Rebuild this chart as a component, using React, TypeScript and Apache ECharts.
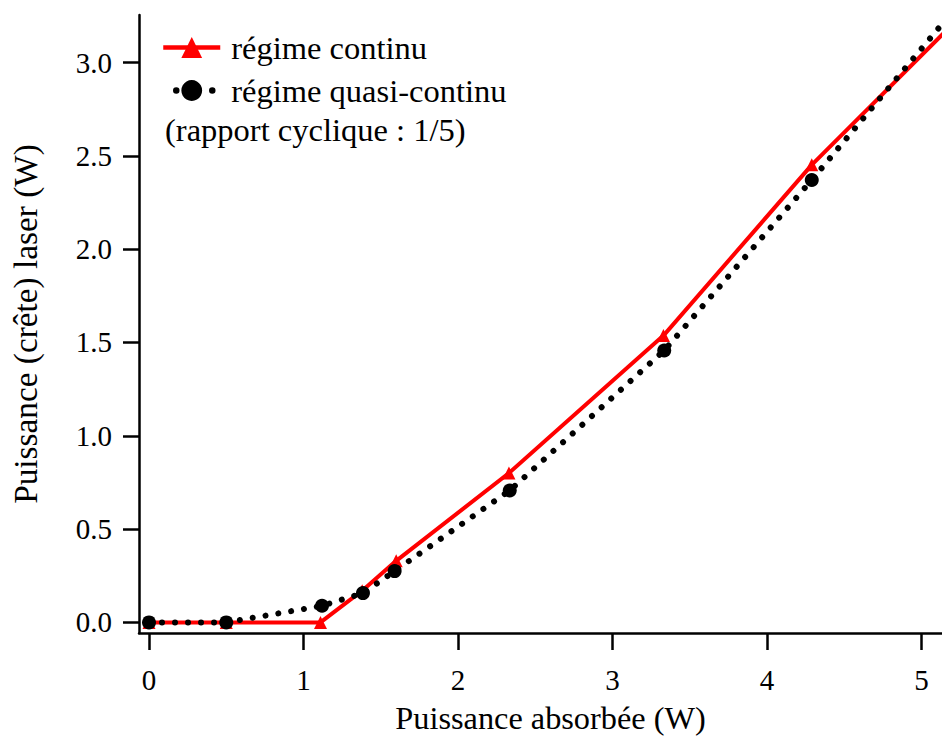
import { useEffect, useRef } from 'react';
import * as echarts from 'echarts';

// Régime continu (triangles rouges)
const xContinu = [0, 0.5, 1.11, 1.38, 1.6, 2.33, 3.33, 4.29, 5.45];
const yContinu = [0, 0, 0, 0.17, 0.33, 0.8, 1.537, 2.452, 3.41];

// Régime quasi-continu (cercles noirs)
const xQuasi = [0, 0.5, 1.12, 1.385, 1.59, 2.335, 3.335, 4.29, 5.45];
const yQuasi = [0, 0, 0.089, 0.157, 0.275, 0.707, 1.457, 2.371, 3.52];

const xTicks = [0, 1, 2, 3, 4, 5];
const yTicks = [0, 0.5, 1, 1.5, 2, 2.5, 3];

const seriesNames = ['régime continu', 'régime quasi-continu'];
const note = '(rapport cyclique : 1/5)';
const xTitle = 'Puissance absorbée (W)';
const yTitle = 'Puissance (crête) laser (W)';

const FONT = 'Liberation Serif, Times New Roman, serif';

export default function App() {
  const ref = useRef<HTMLDivElement>(null);
  useEffect(() => {
    const chart = echarts.init(ref.current!, null, { renderer: 'svg' });
    const zip = (xs: number[], ys: number[]) => xs.map((x, i) => [x, ys[i]]);
    chart.setOption({
      animation: false,
      backgroundColor: '#fff',
      grid: {
        left: 139,
        right: 0,
        top: 15,
        bottom: 104,
        containLabel: false,
        outerBoundsMode: 'none',
      },
      legend: {
        orient: 'vertical',
        left: 155,
        top: 26,
        itemWidth: 57,
        itemHeight: 26,
        itemGap: 10,
        textStyle: { fontFamily: FONT, fontSize: 32.5, color: '#000', padding: [0, 0, 0, 6] },
        data: [
          {
            name: seriesNames[0],
            lineStyle: { width: 4.5, color: '#ff0000' },
          },
          {
            name: seriesNames[1],
            lineStyle: { type: [0.01, 36], dashOffset: 23, width: 6.5, cap: 'round', color: '#000' },
          },
        ],
      },
      graphic: [
        {
          type: 'text',
          left: 165,
          top: 113,
          style: { text: note, fontFamily: FONT, fontSize: 32.5, fill: '#000' },
        },
      ],
      xAxis: {
        type: 'value',
        min: -0.0647,
        max: 5.133,
        splitLine: { show: false },
        axisLine: { onZero: false, lineStyle: { color: '#000', width: 2.5 } },
        axisTick: { customValues: xTicks, length: 17, lineStyle: { color: '#000', width: 2.5 } },
        axisLabel: {
          customValues: xTicks,
          margin: 32,
          fontFamily: FONT,
          fontSize: 29,
          color: '#000',
          formatter: (v: number) => String(v),
        },
        name: xTitle,
        nameLocation: 'middle',
        nameGap: 69,
        nameTextStyle: { fontFamily: FONT, fontSize: 32.3, color: '#000', padding: [0, 0, 0, 20] },
      },
      yAxis: {
        type: 'value',
        min: -0.0568,
        max: 3.255,
        splitLine: { show: false },
        axisLine: { onZero: false, lineStyle: { color: '#000', width: 2.5 } },
        axisTick: { customValues: yTicks, length: 16, lineStyle: { color: '#000', width: 2.5 } },
        axisLabel: {
          customValues: yTicks,
          margin: 27,
          fontFamily: FONT,
          fontSize: 29,
          color: '#000',
          formatter: (v: number) => v.toFixed(1),
        },
        name: yTitle,
        nameLocation: 'middle',
        nameGap: 97,
        nameTextStyle: { fontFamily: FONT, fontSize: 33.3, color: '#000' },
      },
      series: [
        {
          name: seriesNames[0],
          type: 'line',
          data: zip(xContinu, yContinu),
          symbol: 'triangle',
          symbolSize: 13,
          color: '#ff0000',
          itemStyle: { color: '#ff0000' },
          lineStyle: { color: '#ff0000', width: 4 },
          z: 2,
        },
        {
          name: seriesNames[1],
          type: 'line',
          data: zip(xQuasi, yQuasi),
          symbol: 'circle',
          symbolSize: 14,
          color: '#000',
          itemStyle: { color: '#000' },
          lineStyle: { color: '#000', width: 6, type: [0.01, 13], cap: 'round' },
          z: 3,
        },
      ],
    });
    return () => chart.dispose();
  }, []);
  return (
    <div
      ref={ref}
      style={{ position: 'fixed', left: 0, top: 0, width: 942, height: 737 }}
    />
  );
}
